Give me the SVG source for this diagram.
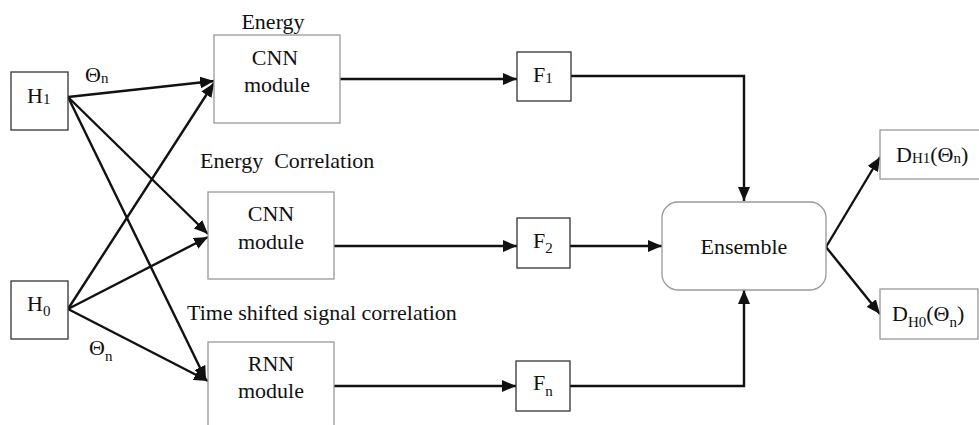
<svg xmlns="http://www.w3.org/2000/svg" width="979" height="425" viewBox="0 0 979 425">
<defs>
<marker id="ah" viewBox="0 0 14 12" refX="14" refY="6" markerWidth="14" markerHeight="12" markerUnits="userSpaceOnUse" orient="auto">
<path d="M0,0 L14,6 L0,12 Z" fill="#111"/>
</marker>
<style>
.box{fill:#fff;stroke:#999;stroke-width:1.3}
.dbox{fill:#fff;stroke:#333;stroke-width:1.3}
.t{font-family:"Liberation Serif","Times New Roman",serif;font-size:22px;fill:#111;white-space:pre}
.c{text-anchor:middle}
.e{fill:none;stroke:#111;stroke-width:2.4}
.sub{font-size:15px}
</style>
</defs>
<rect width="979" height="425" fill="#fff"/>
<g id="connectors">
<line class="e" x1="68" y1="97" x2="214" y2="81" marker-end="url(#ah)"/>
<line class="e" x1="68" y1="309" x2="214" y2="83" marker-end="url(#ah)"/>
<line class="e" x1="68" y1="97" x2="208" y2="234" marker-end="url(#ah)"/>
<line class="e" x1="68" y1="309" x2="208" y2="237" marker-end="url(#ah)"/>
<line class="e" x1="68" y1="97" x2="206" y2="380" marker-end="url(#ah)"/>
<line class="e" x1="68" y1="309" x2="208" y2="381" marker-end="url(#ah)"/>
<line class="e" x1="340" y1="79" x2="517" y2="79" marker-end="url(#ah)"/>
<line class="e" x1="334" y1="246" x2="517" y2="246" marker-end="url(#ah)"/>
<line class="e" x1="334" y1="386" x2="516" y2="386" marker-end="url(#ah)"/>
<polyline class="e" points="571,76 744,76 744,201" marker-end="url(#ah)"/>
<line class="e" x1="570" y1="246" x2="662" y2="246" marker-end="url(#ah)"/>
<polyline class="e" points="570,386 744,386 744,290" marker-end="url(#ah)"/>
<line class="e" x1="826" y1="247" x2="880" y2="157" marker-end="url(#ah)"/>
<line class="e" x1="826" y1="247" x2="880" y2="314" marker-end="url(#ah)"/>
</g>
<g id="H1"><rect class="dbox" x="11" y="72" width="57" height="58"/><text class="t" x="27" y="103">H<tspan class="sub" dy="1">1</tspan></text></g>
<g id="H0"><rect class="dbox" x="11" y="281" width="57" height="58"/><text class="t" x="27" y="311">H<tspan class="sub" dy="5">0</tspan></text></g>
<g id="theta1"><text class="t" x="85" y="82">Θ<tspan class="sub" dy="1">n</tspan></text></g>
<g id="theta2"><text class="t" x="89" y="355">Θ<tspan class="sub" dy="6">n</tspan></text></g>
<g id="cnn1"><text class="t c" x="273" y="29">Energy</text><rect class="box" x="214" y="35" width="126" height="88"/><text class="t c" x="275" y="65">CNN</text><text class="t c" x="277" y="92">module</text></g>
<g id="cnn2"><text class="t" x="200" y="168" xml:space="preserve">Energy  Correlation</text><rect class="box" x="208" y="192" width="126" height="87"/><text class="t c" x="271" y="221">CNN</text><text class="t c" x="271" y="249">module</text></g>
<g id="rnn"><text class="t" x="187" y="320">Time shifted signal correlation</text><rect class="box" x="208" y="342" width="126" height="95"/><text class="t c" x="271" y="371">RNN</text><text class="t c" x="271" y="398">module</text></g>
<g id="F1"><rect class="dbox" x="517" y="52" width="54" height="49"/><text class="t" x="533" y="82">F<tspan class="sub" dy="1">1</tspan></text></g>
<g id="F2"><rect class="dbox" x="517" y="218" width="53" height="50"/><text class="t" x="533" y="248">F<tspan class="sub" dy="5">2</tspan></text></g>
<g id="Fn"><rect class="dbox" x="516" y="361" width="54" height="50"/><text class="t" x="533" y="390">F<tspan class="sub" dy="6">n</tspan></text></g>
<g id="ensemble"><rect class="box" x="662" y="202" width="164" height="88" rx="16"/><text class="t c" x="744" y="254">Ensemble</text></g>
<g id="DH1"><rect class="box" x="880" y="130" width="100" height="49"/><text class="t" x="896" y="162">D<tspan class="sub" dy="1">H1</tspan><tspan dy="-1">(Θ</tspan><tspan class="sub" dy="1">n</tspan><tspan dy="-1">)</tspan></text></g>
<g id="DH0"><rect class="box" x="880" y="289" width="98" height="50"/><text class="t" x="892" y="321">D<tspan class="sub" dy="6">H0</tspan><tspan dy="-6">(Θ</tspan><tspan class="sub" dy="6">n</tspan><tspan dy="-6">)</tspan></text></g>
</svg>
